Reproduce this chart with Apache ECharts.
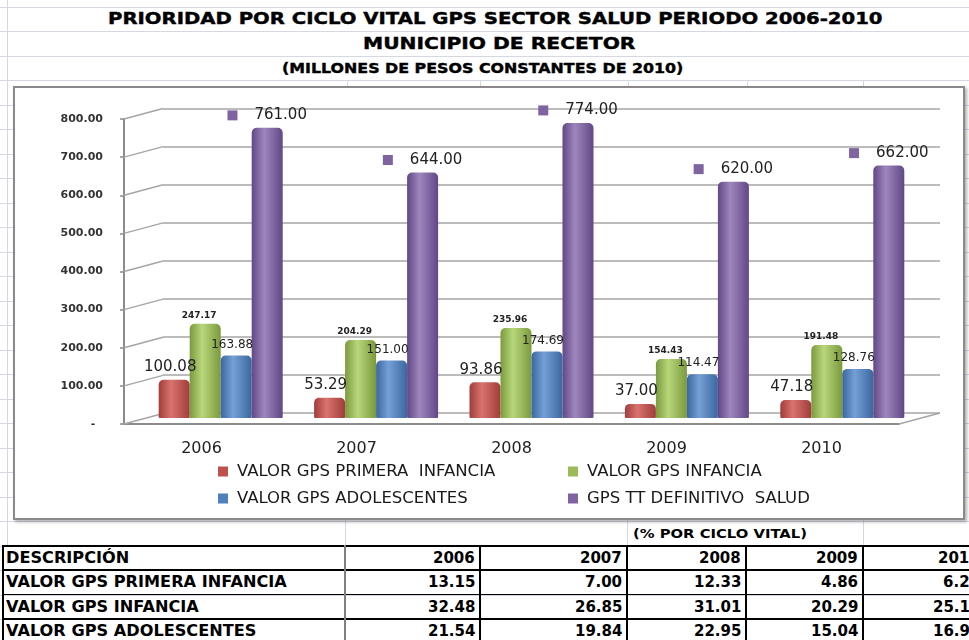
<!DOCTYPE html>
<html>
<head>
<meta charset="utf-8">
<title>Prioridad por ciclo vital GPS sector salud</title>
<script src="https://cdn.jsdelivr.net/npm/echarts@6/dist/echarts.min.js"></script>
<style>
html, body { margin: 0; padding: 0; background: #fff; }
#sheet { position: relative; width: 969px; height: 640px; overflow: hidden; font-family: 'DejaVu Sans', sans-serif; }
.hl { position: absolute; left: 0; width: 969px; height: 1px; background: #d3d8e1; }
.vl { position: absolute; width: 1px; background: #d3d8e1; }
.bl { position: absolute; background: #000; }
.txt { position: absolute; white-space: nowrap; font-weight: bold; color: #000; line-height: 1; }
.title { -webkit-text-stroke: 0.4px #000; }
#box { position: absolute; left: 13px; top: 86px; width: 948px; height: 430px; border: 2px solid #8a8a8a;
       background: #fff; box-shadow: 2px 2px 3px rgba(0,0,0,0.3); }
#chart { position: absolute; left: 0; top: 0; width: 969px; height: 640px; }
</style>
</head>
<body>
<div id="sheet">
  <div id="box"></div>
  <div id="chart"></div>
</div>
<script>
// chart data (millones de pesos constantes de 2010)
const years = ['2006', '2007', '2008', '2009', '2010'];
const seriesNames = ['VALOR GPS PRIMERA  INFANCIA', 'VALOR GPS INFANCIA', 'VALOR GPS ADOLESCENTES', 'GPS TT DEFINITIVO  SALUD'];
const primeraInfancia = [100.08, 53.29, 93.86, 37.00, 47.18];
const infancia = [247.17, 204.29, 235.96, 154.43, 191.48];
const adolescentes = [163.88, 151.00, 174.69, 114.47, 128.76];
const totalSalud = [761.00, 644.00, 774.00, 620.00, 662.00];
const yTicks = [0, 100, 200, 300, 400, 500, 600, 700, 800];

// table data (% por ciclo vital)
const tableDescriptions = ['VALOR GPS PRIMERA INFANCIA', 'VALOR GPS INFANCIA', 'VALOR GPS ADOLESCENTES'];
const pctPrimeraInfancia = [13.15, 7.00, 12.33, 4.86, 6.20];
const pctInfancia = [32.48, 26.85, 31.01, 20.29, 25.16];
const pctAdolescentes = [21.54, 19.84, 22.95, 15.04, 16.92];

const FONT = 'DejaVu Sans';
const sheet = document.getElementById('sheet');

function addDiv(cls, css, text) {
    const d = document.createElement('div');
    d.className = cls;
    Object.assign(d.style, css);
    if (text !== undefined) d.textContent = text;
    sheet.insertBefore(d, document.getElementById('box'));
    return d;
}

// text placed by its vertical centre, optionally stretched to a target width
function addText(text, x, cy, size, opts = {}) {
    const d = addDiv('txt' + (opts.cls ? ' ' + opts.cls : ''), { top: (cy - size * 0.48) + 'px', fontSize: size + 'px' }, text);
    const w = d.offsetWidth;
    let scale = opts.scale || 1;
    if (opts.width) scale = opts.width / w;
    if (opts.align === 'right') {
        d.style.left = (x - w) + 'px';
        d.style.transformOrigin = 'right center';
    } else {
        d.style.left = x + 'px';
        d.style.transformOrigin = 'left center';
    }
    d.style.transform = 'scaleX(' + scale + ')';
    return scale;
}

// spreadsheet grid lines
const rowH = 24.5;
for (let k = -3; k <= 23; k++) {
    addDiv('hl', { top: Math.round(80 + k * rowH) + 'px' });
}
addDiv('vl', { left: '7px', top: '0px', height: '546px' });
[347, 480, 628, 747, 863].forEach(x => addDiv('vl', { left: x + 'px', top: '80px', height: '8px' }));
[345, 627, 863].forEach(x => addDiv('vl', { left: x + 'px', top: '520px', height: '26px' }));

// titles
addText('PRIORIDAD POR CICLO VITAL GPS SECTOR SALUD PERIODO 2006-2010', 108, 19, 16, { width: 775, cls: 'title' });
addText('MUNICIPIO DE RECETOR', 363, 43.5, 16, { width: 272, cls: 'title' });
addText('(MILLONES DE PESOS CONSTANTES DE 2010)', 282, 68, 14, { width: 401, cls: 'title' });

// table
const colEdges = [345, 480, 627, 746, 863, 985];
const rowEdges = [545.5, 570, 594.5, 619, 643.5];
addText('(% POR CICLO VITAL)', 633, 533, 13, { width: 174 });

[[545.5, 2], [570, 2], [594.5, 1], [619, 2]].forEach(([y, w]) =>
    addDiv('bl', { left: '2px', top: (y - w / 2) + 'px', width: '967px', height: w + 'px' }));
addDiv('bl', { left: '2px', top: '545px', width: '2px', height: '100px' });
addDiv('bl', { left: '344px', top: '545px', width: '2px', height: '100px', background: '#808080' });
[[480, 2], [627, 2], [746, 1.5], [863, 1.5]].forEach(([x, w]) =>
    addDiv('bl', { left: (x - w / 2) + 'px', top: '545px', width: w + 'px', height: '100px' }));

const descScale = addText(tableDescriptions[0], 6, (rowEdges[1] + rowEdges[2]) / 2, 15, { width: 281 });
addText('DESCRIPCIÓN', 6, (rowEdges[0] + rowEdges[1]) / 2, 15, { scale: descScale });
addText(tableDescriptions[1], 6, (rowEdges[2] + rowEdges[3]) / 2, 15, { scale: descScale });
addText(tableDescriptions[2], 6, (rowEdges[3] + rowEdges[4]) / 2, 15, { scale: descScale });
const pctRows = [pctPrimeraInfancia, pctInfancia, pctAdolescentes];
years.forEach((yr, i) => {
    const right = colEdges[i + 1] - 5;
    addText(yr, right, (rowEdges[0] + rowEdges[1]) / 2, 15, { align: 'right' });
    pctRows.forEach((row, r) => {
        addText(row[i].toFixed(2), right, (rowEdges[r + 1] + rowEdges[r + 2]) / 2, 15, { align: 'right' });
    });
});

// chart
const colors = [
    ['#a03d3a', '#d9736f'],
    ['#7b9a3d', '#b8d67a'],
    ['#3b679f', '#74a0d6'],
    ['#614886', '#9e86bd']
];
function cylinder(c) {
    return new echarts.graphic.LinearGradient(0, 0, 1, 0, [
        { offset: 0, color: c[0] },
        { offset: 0.4, color: c[1] },
        { offset: 1, color: c[0] }
    ]);
}
const legendColors = ['#C0504D', '#9BBB59', '#4F81BD', '#8064A2'];
const gridColor = '#a6a6a6';

const chart = echarts.init(document.getElementById('chart'), null, { renderer: 'canvas' });

// the slanted lines of the side wall and floor of the 3D frame
function sideLine(dy) {
    return (params, api) => {
        const p0 = api.coord([0, api.value(1)]);
        const p1 = api.coord([1, api.value(1)]);
        return {
            type: 'line',
            shape: { x1: p0[0], y1: p0[1], x2: p1[0], y2: p1[1] + dy },
            style: { stroke: gridColor, lineWidth: 1.5 }
        };
    };
}

const valueAxis = (extra) => Object.assign({
    type: 'value', min: 0, max: 800, interval: 100,
    axisLine: { show: false }, axisTick: { show: false }, axisLabel: { show: false }, splitLine: { show: false }
}, extra);
const hiddenCat = (gridIndex) => ({ type: 'category', gridIndex, data: years, show: false });
const hiddenUnit = (gridIndex) => ({ type: 'value', gridIndex, min: 0, max: 1, show: false });

const barData = [primeraInfancia, infancia, adolescentes, totalSalud];
const labelStyles = [
    { fontSize: 15, distance: 5, offset: [-4, 0] },
    { fontSize: 9, fontWeight: 'bold', distance: 4, offset: [-6, 0] },
    { fontSize: 12, distance: 5, offset: [-4, 0] },
    { fontSize: 15, distance: 5, offset: [0, 0] }
];
const legendPos = [[213, 458], [563, 458], [213, 485], [563, 485]];

const option = {
    animation: false,
    textStyle: { fontFamily: FONT },
    grid: [
        { left: 143, top: 113, width: 777, height: 305 },   // bars
        { left: 163, top: 109, width: 777, height: 304 },   // back wall
        { left: 124, top: 119, width: 775, height: 305 },   // front axes
        { left: 124, top: 119, width: 39, height: 305 },    // side wall
        { left: 899, top: 119, width: 41, height: 305 }     // floor edge
    ],
    xAxis: [
        hiddenCat(0),
        hiddenCat(1),
        {
            type: 'category', gridIndex: 2, data: years,
            axisLine: { lineStyle: { color: '#8c8c8c', width: 2 } },
            axisTick: { length: 5, lineStyle: { color: '#8c8c8c', width: 1.5 } },
            axisLabel: { fontSize: 16, color: '#222', margin: 17, fontFamily: FONT }
        },
        hiddenUnit(3),
        hiddenUnit(4)
    ],
    yAxis: [
        valueAxis({ gridIndex: 0, show: false }),
        valueAxis({ gridIndex: 1, splitLine: { show: true, lineStyle: { color: gridColor, width: 1.5 } } }),
        valueAxis({
            gridIndex: 2,
            axisLine: { show: true, lineStyle: { color: '#8c8c8c', width: 2 } },
            axisTick: { show: true, length: 4, lineStyle: { color: '#8c8c8c', width: 1.5 } },
            axisLabel: {
                show: true, fontSize: 11, fontWeight: 'bold', color: '#333', margin: 21, fontFamily: FONT,
                formatter: v => v === 0 ? '-  ' : v.toFixed(2)
            }
        }),
        valueAxis({ gridIndex: 3, show: false }),
        valueAxis({ gridIndex: 4, show: false })
    ],
    // one legend per entry so the two columns line up as in the sheet; flat swatches
    legend: seriesNames.map((name, i) => ({
        data: [name],
        left: legendPos[i][0], top: legendPos[i][1], icon: 'rect',
        itemWidth: 10, itemHeight: 10, selectedMode: false,
        itemStyle: { color: legendColors[i], borderWidth: 0 },
        textStyle: { fontSize: 16.5, color: '#1a1a1a', fontFamily: FONT, padding: [0, 0, 0, 4] }
    })),
    series: [
        ...barData.map((data, i) => ({
            name: seriesNames[i],
            type: 'bar',
            xAxisIndex: 0, yAxisIndex: 0,
            data: data,
            barWidth: 31,
            barGap: '0%',
            z: 5,
            itemStyle: { color: cylinder(colors[i]), borderRadius: [5, 5, 1, 1] },
            label: i === 3 ? {
                show: true, position: 'top', distance: labelStyles[i].distance,
                formatter: p => '{sq|}{sp|}{v|' + p.value.toFixed(2) + '}',
                rich: {
                    sq: { width: 10, height: 10, backgroundColor: legendColors[3], verticalAlign: 'middle' },
                    sp: { width: 17, verticalAlign: 'middle' },
                    v: { fontSize: 15, color: '#222', fontFamily: FONT, verticalAlign: 'middle' }
                }
            } : {
                show: true, position: 'top',
                distance: labelStyles[i].distance, offset: labelStyles[i].offset,
                fontSize: labelStyles[i].fontSize, fontWeight: labelStyles[i].fontWeight || 'normal',
                color: '#222', fontFamily: FONT,
                formatter: p => p.value.toFixed(2)
            },
            emphasis: { disabled: true }
        })),
        {
            type: 'custom', xAxisIndex: 3, yAxisIndex: 3, silent: true, z: 1,
            data: yTicks.map(v => [0, v]),
            renderItem: sideLine(-10.5)
        },
        {
            type: 'custom', xAxisIndex: 4, yAxisIndex: 4, silent: true, z: 1,
            data: [[0, 0]],
            renderItem: sideLine(-11)
        }
    ],
    color: legendColors
};
chart.setOption(option);
</script>
</body>
</html>
